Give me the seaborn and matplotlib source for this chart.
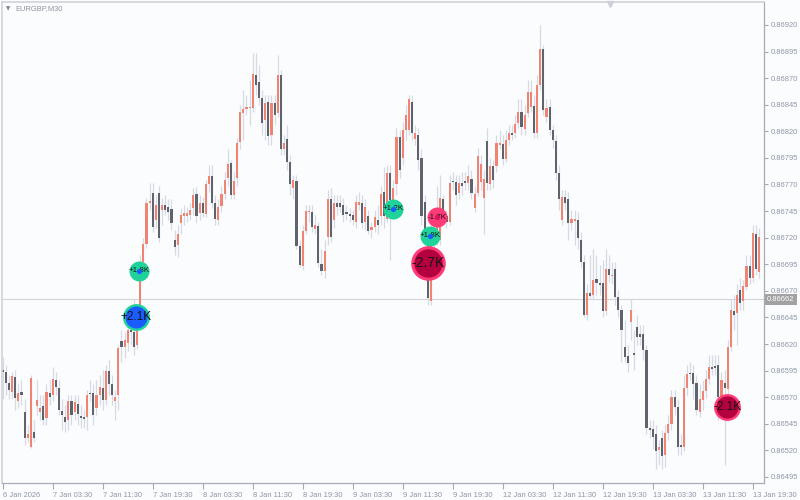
import numpy as np
import seaborn as sns
import matplotlib
matplotlib.use("Agg")
import matplotlib.pyplot as plt
from matplotlib.transforms import blended_transform_factory

# EURGBP M30 candles, prices in points (1e-5)
open_pts = [
    86595, 86594, 86583, 86575, 86589, 86566, 86575, 86556, 86532, 86523,
    86537, 86562, 86556, 86562, 86550, 86574, 86572, 86586, 86579, 86557,
    86551, 86549, 86566, 86556, 86564, 86552, 86551, 86551, 86574, 86574,
    86560, 86572, 86579, 86567, 86595, 86582, 86566, 86572, 86623, 86617,
    86621, 86633, 86631, 86619, 86641, 86697, 86714, 86753, 86762, 86737,
    86762, 86746, 86751, 86749, 86747, 86718, 86713, 86734, 86740, 86740,
    86741, 86748, 86761, 86743, 86753, 86742, 86770, 86778, 86753, 86737,
    86750, 86761, 86776, 86790, 86760, 86776, 86810, 86837, 86841, 86842,
    86842, 86873, 86866, 86851, 86831, 86848, 86817, 86847, 86837, 86873,
    86803, 86813, 86791, 86767, 86773, 86712, 86693, 86726, 86744, 86744,
    86728, 86731, 86695, 86689, 86721, 86756, 86737, 86753, 86753, 86751,
    86744, 86742, 86741, 86735, 86751, 86753, 86735, 86740, 86727, 86730,
    86737, 86740, 86763, 86738, 86781, 86751, 86770, 86815, 86795, 86821,
    86821, 86848, 86813, 86817, 86795, 86754, 86718, 86660, 86729, 86718,
    86718, 86756, 86740, 86735, 86773, 86772, 86762, 86771, 86773, 86771,
    86775, 86748, 86762, 86772, 86757, 86811, 86770, 86787, 86787, 86807,
    86808, 86794, 86812, 86818, 86818, 86828, 86838, 86822, 86837, 86843,
    86844, 86818, 86864, 86897, 86833, 86843, 86821, 86811, 86781, 86737,
    86758, 86756, 86734, 86736, 86737, 86718, 86697, 86647, 86668, 86666,
    86681, 86677, 86677, 86651, 86691, 86684, 86691, 86664, 86652, 86617,
    86609, 86641, 86612, 86636, 86629, 86629, 86614, 86541, 86540, 86535,
    86520, 86532, 86516, 86536, 86545, 86570, 86561, 86525, 86523, 86579,
    86593, 86593, 86583, 86556, 86567, 86576, 86587, 86598, 86599, 86600,
    86570, 86583, 86578, 86617, 86651, 86649, 86671, 86660, 86674, 86693,
    86682, 86723, 86688,
]
close_pts = [
    86594, 86583, 86577, 86590, 86569, 86574, 86572, 86532, 86535, 86588,
    86532, 86567, 86560, 86549, 86575, 86570, 86587, 86580, 86558, 86553,
    86547, 86566, 86553, 86565, 86554, 86550, 86550, 86572, 86573, 86553,
    86572, 86580, 86567, 86595, 86582, 86572, 86570, 86616, 86617, 86624,
    86633, 86631, 86617, 86641, 86697, 86714, 86753, 86754, 86730, 86751,
    86720, 86751, 86746, 86744, 86734, 86711, 86723, 86741, 86743, 86743,
    86746, 86760, 86740, 86753, 86743, 86770, 86778, 86753, 86738, 86749,
    86761, 86774, 86789, 86760, 86773, 86809, 86838, 86841, 86843, 86843,
    86874, 86864, 86851, 86828, 86847, 86816, 86847, 86835, 86873, 86803,
    86809, 86791, 86770, 86774, 86712, 86694, 86726, 86745, 86745, 86730,
    86732, 86696, 86689, 86707, 86756, 86721, 86753, 86749, 86749, 86741,
    86742, 86740, 86737, 86754, 86754, 86734, 86749, 86726, 86730, 86739,
    86732, 86761, 86740, 86781, 86755, 86767, 86815, 86784, 86821, 86835,
    86850, 86818, 86818, 86793, 86740, 86718, 86663, 86727, 86718, 86741,
    86757, 86740, 86735, 86771, 86772, 86760, 86771, 86769, 86771, 86778,
    86762, 86761, 86797, 86789, 86775, 86771, 86787, 86774, 86809, 86809,
    86794, 86812, 86818, 86817, 86827, 86838, 86824, 86835, 86857, 86857,
    86818, 86864, 86897, 86840, 86842, 86821, 86812, 86781, 86756, 86758,
    86753, 86734, 86738, 86738, 86720, 86697, 86647, 86668, 86665, 86680,
    86677, 86676, 86651, 86691, 86685, 86685, 86664, 86652, 86633, 86608,
    86602, 86652, 86610, 86627, 86627, 86614, 86541, 86539, 86533, 86519,
    86523, 86515, 86536, 86545, 86570, 86561, 86523, 86523, 86579, 86592,
    86592, 86582, 86558, 86568, 86576, 86587, 86598, 86597, 86597, 86570,
    86586, 86579, 86617, 86652, 86647, 86666, 86659, 86675, 86693, 86682,
    86724, 86691, 86721,
]
high_pts = [
    86608, 86600, 86591, 86594, 86596, 86582, 86586, 86568, 86544, 86591,
    86549, 86586, 86572, 86572, 86582, 86586, 86598, 86594, 86586, 86568,
    86563, 86572, 86572, 86572, 86572, 86563, 86558, 86577, 86586, 86582,
    86586, 86591, 86596, 86600, 86605, 86591, 86577, 86619, 86633, 86631,
    86645, 86647, 86662, 86652, 86704, 86720, 86757, 86771, 86771, 86760,
    86769, 86757, 86760, 86756, 86756, 86727, 86732, 86748, 86751, 86749,
    86753, 86767, 86768, 86760, 86758, 86774, 86788, 86788, 86760, 86756,
    86769, 86782, 86803, 86793, 86782, 86814, 86845, 86859, 86854, 86868,
    86894, 86894, 86882, 86859, 86854, 86854, 86854, 86854, 86892, 86878,
    86817, 86826, 86798, 86779, 86779, 86718, 86732, 86751, 86751, 86751,
    86741, 86735, 86709, 86718, 86765, 86767, 86760, 86760, 86760, 86757,
    86751, 86748, 86746, 86760, 86763, 86760, 86756, 86746, 86735, 86746,
    86751, 86769, 86786, 86788, 86788, 86774, 86823, 86821, 86829, 86845,
    86854, 86854, 86826, 86823, 86803, 86760, 86723, 86732, 86737, 86769,
    86779, 86760, 86746, 86779, 86782, 86779, 86779, 86782, 86782, 86788,
    86784, 86769, 86804, 86798, 86784, 86823, 86795, 86793, 86817, 86821,
    86817, 86821, 86826, 86826, 86835, 86850, 86850, 86845, 86868, 86868,
    86854, 86873, 86920, 86901, 86850, 86850, 86826, 86817, 86788, 86765,
    86765, 86763, 86746, 86746, 86744, 86725, 86704, 86676, 86704, 86709,
    86704, 86694, 86699, 86709, 86704, 86697, 86697, 86671, 86657, 86643,
    86619, 86662, 86633, 86647, 86638, 86638, 86619, 86549, 86549, 86544,
    86530, 86539, 86544, 86553, 86577, 86577, 86568, 86535, 86591, 86600,
    86603, 86600, 86591, 86582, 86586, 86596, 86610, 86610, 86610, 86610,
    86594, 86596, 86624, 86662, 86666, 86676, 86682, 86680, 86704, 86704,
    86732, 86732, 86729,
]
low_pts = [
    86568, 86572, 86568, 86568, 86558, 86560, 86563, 86525, 86528, 86522,
    86528, 86553, 86549, 86544, 86544, 86563, 86566, 86572, 86553, 86539,
    86537, 86539, 86544, 86549, 86544, 86541, 86541, 86539, 86566, 86544,
    86553, 86563, 86558, 86563, 86572, 86563, 86549, 86558, 86603, 86607,
    86613, 86619, 86610, 86615, 86633, 86692, 86710, 86746, 86725, 86729,
    86716, 86732, 86741, 86737, 86727, 86704, 86702, 86723, 86732, 86735,
    86737, 86741, 86735, 86737, 86739, 86739, 86763, 86748, 86732, 86732,
    86744, 86756, 86769, 86756, 86756, 86769, 86803, 86812, 86835, 86826,
    86838, 86854, 86845, 86817, 86812, 86807, 86807, 86826, 86833, 86798,
    86798, 86784, 86760, 86756, 86709, 86692, 86690, 86723, 86735, 86725,
    86723, 86692, 86685, 86682, 86713, 86716, 86729, 86741, 86744, 86735,
    86737, 86735, 86732, 86729, 86746, 86729, 86727, 86723, 86720, 86725,
    86723, 86732, 86729, 86735, 86699, 86741, 86760, 86776, 86788, 86812,
    86817, 86812, 86807, 86784, 86732, 86710, 86657, 86657, 86709, 86713,
    86713, 86732, 86729, 86732, 86765, 86751, 86756, 86760, 86765, 86765,
    86756, 86744, 86759, 86765, 86723, 86765, 86765, 86767, 86782, 86803,
    86788, 86791, 86807, 86812, 86814, 86823, 86817, 86817, 86833, 86838,
    86814, 86814, 86859, 86835, 86829, 86817, 86804, 86774, 86746, 86732,
    86746, 86718, 86727, 86713, 86709, 86692, 86645, 86643, 86662, 86662,
    86666, 86666, 86645, 86647, 86678, 86676, 86657, 86645, 86603, 86603,
    86594, 86624, 86596, 86619, 86619, 86605, 86535, 86532, 86521, 86502,
    86506, 86502, 86504, 86530, 86539, 86553, 86516, 86516, 86519, 86572,
    86586, 86568, 86553, 86551, 86558, 86569, 86582, 86591, 86591, 86549,
    86563, 86506, 86572, 86613, 86633, 86619, 86652, 86652, 86671, 86676,
    86678, 86685, 86682,
]

x_tick_bars = [0, 16, 32, 48, 64, 80, 96, 112, 128, 144, 160, 176, 192, 208, 224, 240]
x_tick_labels = ["6 Jan 2026", "7 Jan 03:30", "7 Jan 11:30", "7 Jan 19:30",
                 "8 Jan 03:30", "8 Jan 11:30", "8 Jan 19:30", "9 Jan 03:30",
                 "9 Jan 11:30", "9 Jan 19:30", "12 Jan 03:30", "12 Jan 11:30",
                 "12 Jan 19:30", "13 Jan 03:30", "13 Jan 11:30", "13 Jan 19:30"]
y_ticks = [0.86495, 0.86520, 0.86545, 0.86570, 0.86595, 0.86620, 0.86645, 0.86670,
           0.86695, 0.86720, 0.86745, 0.86770, 0.86795, 0.86820, 0.86845, 0.86870,
           0.86895, 0.86920]
last_price = 0.86662

# delta bubbles: bar position, price, volume in K
bubble_bar = [43.6, 42.7, 124.9, 139.0, 136.7, 136.0, 231.8]
bubble_price = [0.86689, 0.86645, 0.86747, 0.86739, 0.86722, 0.86696, 0.86561]
bubble_vol = [1.8, 2.1, 1.2, -1.7, 1.8, -2.7, -2.1]

BG = "#fbfcfe"
BULL = "#f08371"
BEAR = "#5f636b"
WICK = "#d6dae3"
TXT = "#8d96a7"
FS = 5.4

sns.set_theme(style="white")
plt.rcParams["font.family"] = ["Liberation Sans", "DejaVu Sans"]

o = np.array(open_pts) / 1e5
c = np.array(close_pts) / 1e5
h = np.maximum(np.array(high_pts) / 1e5, np.maximum(o, c))
l = np.minimum(np.array(low_pts) / 1e5, np.minimum(o, c))
x = np.arange(len(o))

fig = plt.figure(figsize=(8, 5), dpi=100, facecolor=BG)
ax = fig.add_axes([0.0025, 0.034, 0.9525, 0.962])
ax.set_facecolor(BG)

ax.axhline(last_price, color="#d2d4d8", lw=0.8, zorder=0.5)

# candles
ax.vlines(x, l, h, color=WICK, lw=0.9, zorder=1)
body = np.maximum(np.abs(c - o), 0.000012)
mid = (o + c) / 2
up = c >= o
ax.bar(x, body, bottom=mid - body / 2, width=0.68,
       color=np.where(up, BULL, BEAR), linewidth=0, zorder=2)

# bubbles
for bx, bp, v in zip(bubble_bar, bubble_price, bubble_vol):
    big = abs(v) >= 2
    r = 6.4 * abs(v) if big else 10
    ri = 0.82 * r if big else 2.6
    if v > 0:
        ring, inner = "#20d39b", "#1a5cff"
    else:
        ring, inner = "#ff3b78", ("#b5003f" if big else "#d8145a")
    sns.scatterplot(x=[bx], y=[bp], s=(1.44 * r) ** 2, color=ring,
                    linewidth=0, ax=ax, zorder=5, legend=False)
    sns.scatterplot(x=[bx], y=[bp], s=(1.44 * ri) ** 2, color=inner,
                    linewidth=0, ax=ax, zorder=7 if not big else 6, legend=False)
    ax.text(bx, bp, f"{v:+.1f}K", ha="center", va="center",
            fontsize=10 if abs(v) > 2.5 else (8.5 if big else 5.8),
            color="#151515", zorder=6.5 if not big else 8)

ax.set_xlim(-0.22, 243.6)
ax.set_ylim(0.864893, 0.869416)

ax.yaxis.tick_right()
ax.set_yticks(y_ticks)
ax.set_yticklabels([f"{v:.5f}" for v in y_ticks])
ax.set_xticks(x_tick_bars)
ax.set_xticklabels(x_tick_labels, ha="left")
ax.tick_params(axis="y", right=True, left=False, length=3, width=0.8,
               color="#a4a8b0", labelsize=FS, labelcolor=TXT, pad=2)
ax.tick_params(axis="x", bottom=True, length=4, width=0.8,
               color="#a4a8b0", labelsize=FS, labelcolor=TXT, pad=2.5)
ax.set_xlabel("")
ax.set_ylabel("")

for name, sp in ax.spines.items():
    sp.set_visible(True)
    sp.set_color("#d0d3d9" if name in ("left", "top") else "#a8acb4")
    sp.set_linewidth(1.2 if name in ("left", "top") else 0.9)

# last price tag on the axis
tr = blended_transform_factory(ax.transAxes, ax.transData)
ax.text(1.004, last_price, "0.86662", transform=tr, ha="left", va="center",
        fontsize=FS, color="white",
        bbox=dict(boxstyle="square,pad=0.3", fc="#a2a2a2", ec="none"))

# symbol caption and chart shift marker
fig.text(6 / 800, 1 - 9 / 500, "\u25bc", fontsize=4, color="#7d838d",
         ha="left", va="center", family="DejaVu Sans")
fig.text(15 / 800, 1 - 9 / 500, "EURGBP,M30", fontsize=FS, color="#8e939c",
         ha="left", va="center")
ax.plot([0.798], [0.996], marker="v", ms=5, color="#cdd0d6",
        transform=ax.transAxes, clip_on=False, zorder=9)

fig.savefig("out.png", dpi=100, facecolor=BG)
